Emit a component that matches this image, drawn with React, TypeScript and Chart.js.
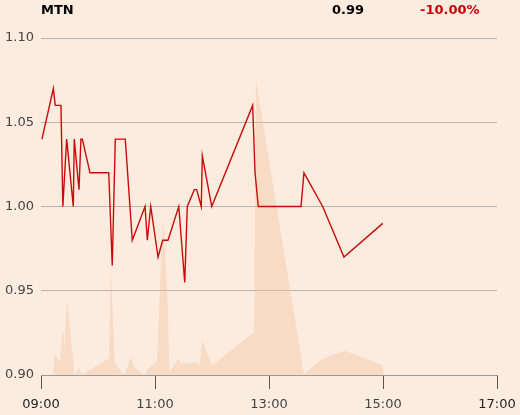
import React, { useEffect, useRef } from "react";
import { Chart, registerables } from "chart.js";

Chart.register(...registerables);

// Minutes since midnight
const priceTimes = [541, 553, 555, 561, 563, 567, 574, 575, 580, 582, 583.5, 591.6, 611.3, 615, 618.2, 628.7, 636.1, 649.5, 651.9, 655.5, 663.2, 668.1, 673.7, 685, 691.3, 694, 701.4, 703.9, 708.7, 709.8, 719.7, 762.8, 765.3, 768.7, 813.7, 816.8, 836.5, 858.9, 899.7];
const priceValues = [1.04, 1.07, 1.06, 1.06, 1.0, 1.04, 1.0, 1.04, 1.01, 1.04, 1.04, 1.02, 1.02, 0.965, 1.04, 1.04, 0.98, 1.0, 0.98, 1.0, 0.97, 0.98, 0.98, 1.0, 0.955, 1.0, 1.01, 1.01, 1.0, 1.03, 1.0, 1.06, 1.02, 1.0, 1.0, 1.02, 1.0, 0.97, 0.99];

const volumeTimes = [552.6, 554.4, 560, 562.4, 563.9, 564.5, 567.4, 575.5, 580.3, 582.8, 611.6, 613.4, 617.6, 627.4, 635, 637.9, 649.2, 651.9, 662.1, 668.4, 673.2, 675.3, 684.5, 687.4, 689.8, 692.6, 696.8, 703.9, 707.4, 709.5, 720.3, 764.5, 766.3, 816.8, 837.2, 860, 900.3, 900.5];
const volumeValues = [0, 6.2, 3.9, 12.8, 12.4, 7.4, 22.6, 0, 2.3, 0, 5, 32.6, 3.5, 0, 5.4, 2.3, 0, 1.7, 4.2, 46.9, 22.3, 0.9, 5, 3.3, 3.9, 3.3, 3.5, 3.8, 2.9, 10.4, 2.8, 12.8, 87.5, 0.3, 5, 7.2, 2.8, 0];

const xMin = 540;
const xMax = 1020;
const yTicks = [0.9, 0.95, 1.0, 1.05, 1.1];

const title = "MTN";
const lastPrice = "0.99";
const change = "-10.00%";

const BG = "#fcece0";
const FONT = "'DejaVu Sans', sans-serif";

function fmtTime(m: number) {
  const h = Math.floor(m / 60);
  const mm = Math.round(m % 60);
  return String(h).padStart(2, "0") + ":" + String(mm).padStart(2, "0");
}

export default function App() {
  const ref = useRef<HTMLCanvasElement>(null);
  useEffect(() => {
    if (!ref.current) return;
    const chart = new Chart(ref.current, {
      type: "line",
      data: {
        datasets: [
          {
            label: "Price",
            data: priceTimes.map((t, i) => ({ x: t, y: priceValues[i] })),
            borderColor: "#cc0a0a",
            borderWidth: 1.4,
            pointRadius: 0,
            tension: 0,
            fill: false,
            yAxisID: "y",
            order: 0,
          },
          {
            label: "Volume",
            data: volumeTimes.map((t, i) => ({ x: t, y: volumeValues[i] })),
            borderWidth: 0,
            borderColor: "rgba(0,0,0,0)",
            backgroundColor: "rgba(242,196,160,0.42)",
            pointRadius: 0,
            tension: 0,
            fill: "origin",
            yAxisID: "v",
            order: 1,
          },
        ],
      },
      options: {
        animation: false,
        responsive: false,
        maintainAspectRatio: false,
        layout: { padding: { left: 0, right: 23, top: 38, bottom: 0 } },
        plugins: { legend: { display: false }, tooltip: { enabled: false } },
        scales: {
          x: {
            type: "linear",
            min: xMin,
            max: xMax,
            afterBuildTicks: (scale: any) => {
              const t = [];
              for (let m = xMin; m <= xMax; m += 120) t.push({ value: m });
              scale.ticks = t;
            },
            afterFit: (scale: any) => {
              scale.height = 40;
              scale.paddingLeft = 0;
              scale.paddingRight = 0;
            },
            grid: {
              drawOnChartArea: false,
              drawTicks: true,
              tickLength: 14,
              color: "#555555",
              lineWidth: 1,
            },
            border: { display: true, color: "#9a9a9a", width: 1 },
            ticks: {
              padding: 8,
              maxRotation: 0,
              autoSkip: false,
              font: { family: FONT, size: 13 },
              color: (ctx: any) =>
                ctx.index === 0 || ctx.tick?.value === xMax ? "#222222" : "#444444",
              callback: (v: any) => fmtTime(Number(v)),
            },
          },
          y: {
            position: "left",
            min: 0.9,
            max: 1.1,
            afterBuildTicks: (scale: any) => {
              scale.ticks = yTicks.map((v) => ({ value: v }));
            },
            afterFit: (scale: any) => {
              scale.width = 41;
              scale.paddingTop = 0;
              scale.paddingBottom = 0;
            },
            grid: { drawTicks: false, color: "#b5b5b5", lineWidth: 1 },
            border: { display: false },
            ticks: {
              padding: 7,
              font: { family: FONT, size: 13 },
              color: "#444444",
              callback: (v: any) => Number(v).toFixed(2),
            },
          },
          v: {
            display: false,
            min: 0,
            max: 100,
          },
        },
      },
    });
    return () => chart.destroy();
  }, []);

  const head: React.CSSProperties = {
    position: "absolute",
    top: 2,
    font: `bold 13px ${FONT}`,
    lineHeight: "15px",
    whiteSpace: "nowrap",
  };

  return (
    <div style={{ position: "fixed", left: 0, top: 0, width: 520, height: 415, background: BG }}>
      <canvas ref={ref} width={520} height={415} style={{ position: "absolute", left: 0, top: 0, width: 520, height: 415 }} />
      <div style={{ ...head, left: 41, color: "#000" }}>{title}</div>
      <div style={{ ...head, left: 332, color: "#000" }}>{lastPrice}</div>
      <div style={{ ...head, left: 420, color: "#cc0000" }}>{change}</div>
    </div>
  );
}
